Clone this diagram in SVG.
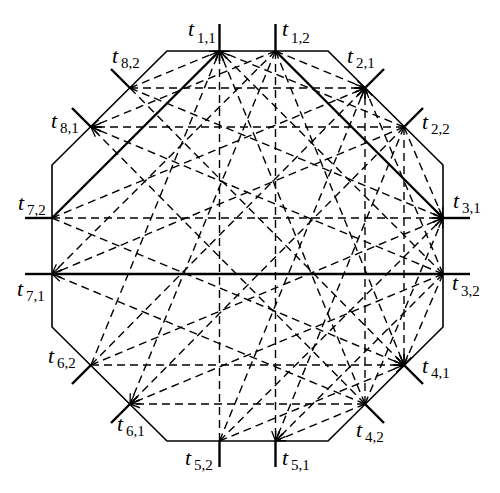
<svg xmlns="http://www.w3.org/2000/svg" width="500" height="493" viewBox="0 0 500 493">
<defs>
<style>
.oct{fill:none;stroke:#000;stroke-width:1.6}
.tick{stroke:#000;stroke-width:2.4;fill:none}
.thick{stroke:#000;stroke-width:2.4;fill:none}
.d{stroke:#000;stroke-width:1.4;stroke-dasharray:8 5;fill:none}
.lb{font-family:"Liberation Serif","Times New Roman",serif;font-size:22px;fill:#000}
.t{font-style:italic}
.s{font-size:15px}
</style>
<marker id="ah" viewBox="0 0 10 10" refX="10" refY="5" markerWidth="10" markerHeight="10" markerUnits="userSpaceOnUse" orient="auto">
<path d="M0,1.2 L10,5 L0,8.8" fill="none" stroke="#000" stroke-width="1.3"/>
</marker>
</defs>
<rect width="500" height="493" fill="#fff"/>
<g id="octagon">
<polygon class="oct" points="167,51 328,51 443,165 443,327 328,441 167,441 52,327 52,165"/>
</g>
<g id="connectors" marker-end="url(#ah)">
<line class="thick" x1="52" y1="218" x2="219.5" y2="51"/>
<line class="thick" x1="275.5" y1="51" x2="443" y2="218"/>
<line class="thick" x1="443" y1="274" x2="52" y2="274"/>
<line class="d" x1="275.5" y1="51" x2="365" y2="88"/>
<line class="d" x1="275.5" y1="51" x2="404" y2="365"/>
<line class="d" x1="275.5" y1="51" x2="275.5" y2="441"/>
<line class="d" x1="275.5" y1="51" x2="130" y2="404"/>
<line class="d" x1="275.5" y1="51" x2="52" y2="274"/>
<line class="d" x1="275.5" y1="51" x2="91" y2="127"/>
<line class="d" x1="404" y1="127" x2="219.5" y2="51"/>
<line class="d" x1="404" y1="127" x2="443" y2="218"/>
<line class="d" x1="404" y1="127" x2="404" y2="365"/>
<line class="d" x1="404" y1="127" x2="275.5" y2="441"/>
<line class="d" x1="404" y1="127" x2="130" y2="404"/>
<line class="d" x1="404" y1="127" x2="52" y2="274"/>
<line class="d" x1="404" y1="127" x2="91" y2="127"/>
<line class="d" x1="443" y1="274" x2="219.5" y2="51"/>
<line class="d" x1="443" y1="274" x2="365" y2="88"/>
<line class="d" x1="443" y1="274" x2="404" y2="365"/>
<line class="d" x1="443" y1="274" x2="275.5" y2="441"/>
<line class="d" x1="443" y1="274" x2="130" y2="404"/>
<line class="d" x1="443" y1="274" x2="91" y2="127"/>
<line class="d" x1="365" y1="404" x2="219.5" y2="51"/>
<line class="d" x1="365" y1="404" x2="365" y2="88"/>
<line class="d" x1="365" y1="404" x2="443" y2="218"/>
<line class="d" x1="365" y1="404" x2="275.5" y2="441"/>
<line class="d" x1="365" y1="404" x2="130" y2="404"/>
<line class="d" x1="365" y1="404" x2="52" y2="274"/>
<line class="d" x1="365" y1="404" x2="91" y2="127"/>
<line class="d" x1="219.5" y1="441" x2="219.5" y2="51"/>
<line class="d" x1="219.5" y1="441" x2="365" y2="88"/>
<line class="d" x1="219.5" y1="441" x2="443" y2="218"/>
<line class="d" x1="219.5" y1="441" x2="404" y2="365"/>
<line class="d" x1="91" y1="365" x2="219.5" y2="51"/>
<line class="d" x1="91" y1="365" x2="365" y2="88"/>
<line class="d" x1="91" y1="365" x2="443" y2="218"/>
<line class="d" x1="91" y1="365" x2="404" y2="365"/>
<line class="d" x1="52" y1="218" x2="365" y2="88"/>
<line class="d" x1="52" y1="218" x2="443" y2="218"/>
<line class="d" x1="52" y1="218" x2="404" y2="365"/>
<line class="d" x1="130" y1="88" x2="219.5" y2="51"/>
<line class="d" x1="130" y1="88" x2="365" y2="88"/>
<line class="d" x1="130" y1="88" x2="443" y2="218"/>
<line class="d" x1="130" y1="88" x2="404" y2="365"/>
</g>
<g id="ticks">
<line class="tick" x1="219.5" y1="24" x2="219.5" y2="51"/>
<line class="tick" x1="275.5" y1="24" x2="275.5" y2="51"/>
<line class="tick" x1="365" y1="88" x2="384" y2="69"/>
<line class="tick" x1="404" y1="127" x2="423" y2="108"/>
<line class="tick" x1="443" y1="218" x2="470" y2="218"/>
<line class="tick" x1="443" y1="274" x2="470" y2="274"/>
<line class="tick" x1="404" y1="365" x2="423" y2="384"/>
<line class="tick" x1="365" y1="404" x2="384" y2="423"/>
<line class="tick" x1="275.5" y1="441" x2="275.5" y2="467"/>
<line class="tick" x1="219.5" y1="441" x2="219.5" y2="467"/>
<line class="tick" x1="130" y1="404" x2="111" y2="423"/>
<line class="tick" x1="91" y1="365" x2="72" y2="384"/>
<line class="tick" x1="52" y1="274" x2="25" y2="274"/>
<line class="tick" x1="52" y1="218" x2="25" y2="218"/>
<line class="tick" x1="91" y1="127" x2="72" y2="108"/>
<line class="tick" x1="130" y1="88" x2="111" y2="69"/>
</g>
<g id="t11"><text class="lb" x="188" y="36"><tspan class="t">t</tspan><tspan class="s" x="197" y="43">1,1</tspan></text></g>
<g id="t12"><text class="lb" x="282" y="36"><tspan class="t">t</tspan><tspan class="s" x="291" y="43">1,2</tspan></text></g>
<g id="t21"><text class="lb" x="347" y="63"><tspan class="t">t</tspan><tspan class="s" x="356" y="68">2,1</tspan></text></g>
<g id="t22"><text class="lb" x="422" y="129"><tspan class="t">t</tspan><tspan class="s" x="431" y="134">2,2</tspan></text></g>
<g id="t31"><text class="lb" x="453" y="208"><tspan class="t">t</tspan><tspan class="s" x="462" y="213">3,1</tspan></text></g>
<g id="t32"><text class="lb" x="452" y="290"><tspan class="t">t</tspan><tspan class="s" x="461" y="296">3,2</tspan></text></g>
<g id="t41"><text class="lb" x="422" y="373"><tspan class="t">t</tspan><tspan class="s" x="431" y="378">4,1</tspan></text></g>
<g id="t42"><text class="lb" x="356" y="437"><tspan class="t">t</tspan><tspan class="s" x="365" y="442">4,2</tspan></text></g>
<g id="t51"><text class="lb" x="282" y="465"><tspan class="t">t</tspan><tspan class="s" x="291" y="470">5,1</tspan></text></g>
<g id="t52"><text class="lb" x="185" y="465"><tspan class="t">t</tspan><tspan class="s" x="194" y="470">5,2</tspan></text></g>
<g id="t61"><text class="lb" x="117" y="431"><tspan class="t">t</tspan><tspan class="s" x="126" y="436">6,1</tspan></text></g>
<g id="t62"><text class="lb" x="48" y="363"><tspan class="t">t</tspan><tspan class="s" x="57" y="368">6,2</tspan></text></g>
<g id="t71"><text class="lb" x="17" y="296"><tspan class="t">t</tspan><tspan class="s" x="26" y="301">7,1</tspan></text></g>
<g id="t72"><text class="lb" x="18" y="210"><tspan class="t">t</tspan><tspan class="s" x="27" y="215">7,2</tspan></text></g>
<g id="t81"><text class="lb" x="51" y="128"><tspan class="t">t</tspan><tspan class="s" x="60" y="133">8,1</tspan></text></g>
<g id="t82"><text class="lb" x="112" y="63"><tspan class="t">t</tspan><tspan class="s" x="121" y="68">8,2</tspan></text></g>
</svg>
